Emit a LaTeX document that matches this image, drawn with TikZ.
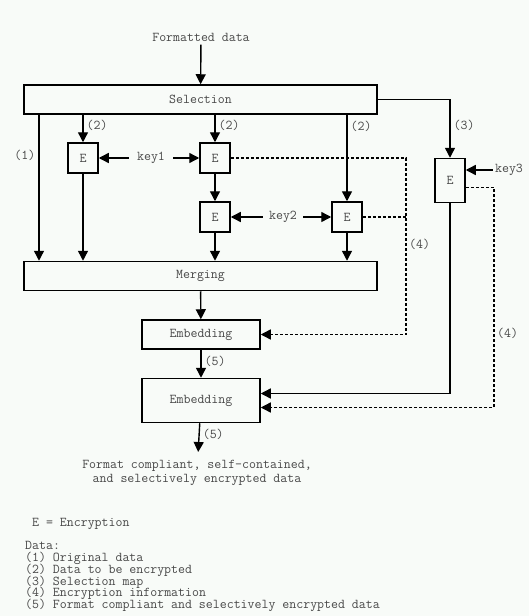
\documentclass[tikz,border=0pt]{standalone}
\usepackage{tikz}
\usetikzlibrary{arrows.meta}
\definecolor{paper}{RGB}{248,251,248}
\definecolor{ink}{RGB}{40,40,40}
\newcommand\tyfont{\ttfamily\fontsize{13.5}{11.75}\selectfont\lineskiplimit=-100pt\relax}

\tikzset{
  txt/.style={font=\tyfont, text=ink!85},
  blk/.style={txt, draw, line width=1.5pt, inner sep=0},
  enc/.style={blk, minimum width=30pt, minimum height=30pt},
  flow/.style={line width=1.4pt, -{Triangle[length=10pt,width=10pt]}},
  info/.style={flow, dash pattern=on 3pt off 2pt},
  keytxt/.style={txt, inner xsep=8pt},
  tag/.style={txt, inner sep=3pt}
}

\begin{document}
\begin{tikzpicture}[x=1pt,y=-1pt]
\fill[paper] (0,0) rectangle (529,616);
\useasboundingbox (0,0) rectangle (529,616);

\node[txt] (fmt) at (201,37) {Formatted data};
\node[blk, minimum width=353pt, minimum height=29pt] (sel) at (200.5,99.5) {Selection};
\node[blk, minimum width=353pt, minimum height=29pt] (mrg) at (200.5,276) {Merging};
\node[blk, minimum width=118pt, minimum height=29pt] (emb1) at (201,334.5) {Embedding};
\node[blk, minimum width=118pt, minimum height=44pt] (emb2) at (201,400.5) {Embedding};

\node[enc] (e1) at (83,158) {E};
\node[enc] (e2) at (215,158) {E};
\node[enc] (e3) at (215,217) {E};
\node[enc] (e4) at (347,217) {E};
\node[enc, minimum height=44pt] (e5) at (450,180.5) {E};

\node[keytxt] (key1) at (151,158) {key1};
\node[keytxt, inner xsep=6pt] (key2) at (283,217) {key2};
\node[keytxt, inner xsep=2pt] (key3) at (509,170) {key3};

\coordinate (orig) at (39,0);
\coordinate (tap2) at (406,0);
\coordinate (tap5) at (494,0);

\draw[flow] (fmt) -- (sel);

% selection to the encryption boxes
\draw[flow] (sel.south -| orig) -- node[tag, left, pos=.28] (l1) {(1)} (mrg.north -| orig);
\draw[flow] (sel.south -| e1) -- node[tag, right, pos=.4] (l2a) {(2)} (e1);
\draw[flow] (sel.south -| e2) -- node[tag, right, pos=.4] (l2b) {(2)} (e2);
\draw[flow] (sel.south -| e4) -- node[tag, right, pos=.13] (l2c) {(2)} (e4);
\draw[flow] (sel.east) -| node[tag, right, pos=.72] (l3) {(3)} (e5);

\draw[flow] (key1) -- (e1);
\draw[flow] (key1) -- (e2);
\draw[flow] (key2) -- (e3);
\draw[flow] (key2) -- (e4);
\draw[flow] (key3) -- (e5.east |- key3);

\draw[flow] (e2) -- (e3);
\draw[flow] (e1) -- (mrg.north -| e1);
\draw[flow] (e3) -- (mrg.north -| e3);
\draw[flow] (e4) -- (mrg.north -| e4);

\draw[flow] (mrg) -- (emb1);
\draw[flow] (emb1) -- node[tag, right, pos=.4] (l5a) {(5)} (emb2);

% encryption information
\draw[info] (e2.east) -- (e2.east -| tap2) |- (emb1.east);
\draw[line width=1.4pt, dash pattern=on 3pt off 2pt] (e4.east) -- (e4.east -| tap2);
\node[tag, right] (l4a) at (tap2 |- 0,244) {(4)};

\draw[flow] (e5.south) |- ([yshift=7pt]emb2.east);
\draw[info] ([yshift=-7pt]e5.east) -- ([yshift=-7pt]e5.east -| tap5) |- ([yshift=-7pt]emb2.east);
\node[tag, right] (l4b) at (tap5 |- 0,333) {(4)};

\node[txt, align=center, anchor=north, inner xsep=2pt, inner ysep=8pt, font=\ttfamily\fontsize{13.5}{14}\selectfont] (out) at (197,452)
  {Format compliant, self-contained,\\and selectively encrypted data};
\draw[flow] (emb2) -- node[tag, right, pos=.4] (l5b) {(5)} (out);

\node[txt, align=left, anchor=north west, inner sep=0] (legend) at (25,518)
  {\ E = Encryption\\ \\Data:\\(1) Original data\\(2) Data to be encrypted\\(3) Selection map\\(4) Encryption information\\(5) Format compliant and selectively encrypted data};
\end{tikzpicture}
\end{document}
